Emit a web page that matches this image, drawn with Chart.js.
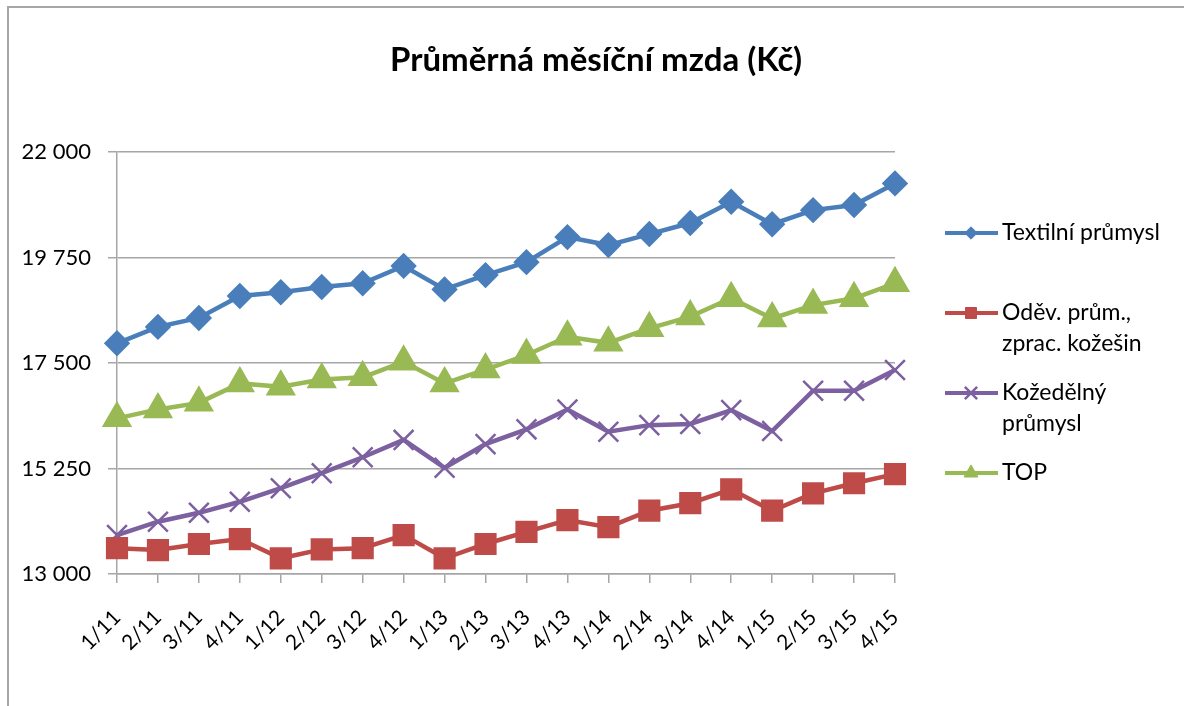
<!DOCTYPE html>
<html lang="cs">
<head>
<meta charset="UTF-8">
<title>Průměrná měsíční mzda (Kč)</title>
<script src="https://cdn.jsdelivr.net/npm/chart.js"></script>
<style>
  html, body { margin: 0; padding: 0; background: #fff; }
</style>
</head>
<body>
<canvas id="graf" width="1184" height="706"></canvas>
<script>
// data
const obdobi = ['1/11', '2/11', '3/11', '4/11', '1/12', '2/12', '3/12', '4/12', '1/13', '2/13',
                '3/13', '4/13', '1/14', '2/14', '3/14', '4/14', '1/15', '2/15', '3/15', '4/15'];
const textilni = [17920, 18270, 18460, 18930, 19010, 19120, 19200, 19570, 19070, 19375,
                  19650, 20185, 20015, 20250, 20485, 20940, 20460, 20760, 20870, 21330];
const odevni = [13550, 13510, 13640, 13745, 13335, 13525, 13550, 13830, 13335, 13640,
                13900, 14150, 14000, 14350, 14510, 14805, 14350, 14720, 14935, 15130];
const kozedelny = [13830, 14115, 14305, 14540, 14830, 15150, 15490, 15860, 15265, 15770,
                   16085, 16510, 16035, 16175, 16200, 16495, 16050, 16910, 16910, 17350];
const topPrumysl = [16320, 16510, 16650, 17065, 16995, 17150, 17195, 17525, 17065, 17360,
                    17670, 18060, 17930, 18240, 18490, 18880, 18450, 18735, 18880, 19200];
const osaY = [13000, 15250, 17500, 19750, 22000];

const nazvyLegendy = [['Textilní průmysl'], ['Oděv. prům.,', 'zprac. kožešin'], ['Kožedělný', 'průmysl'], ['TOP']];

const pismo = 'Lato, "Open Sans", sans-serif';
const seda = '#a6a6a6';

function formatuj(v) {
    return String(v).replace(/\B(?=(\d{3})+(?!\d))/g, ' ');
}

// rámeček a nadpis
const ramecek = {
    id: 'ramecek',
    beforeDraw(chart) {
        const ctx = chart.ctx;
        ctx.save();
        ctx.strokeStyle = seda;
        ctx.lineWidth = 2;
        ctx.beginPath();
        ctx.moveTo(8, 706);
        ctx.lineTo(8, 7);
        ctx.lineTo(1184, 7);
        ctx.stroke();

        ctx.fillStyle = '#000';
        ctx.font = 'bold 33px ' + pismo;
        ctx.textAlign = 'center';
        ctx.textBaseline = 'middle';
        ctx.fillText('Průměrná měsíční mzda (Kč)', 596, 60);
        ctx.restore();
    }
};

// legenda vpravo, víceřádkové popisky
const legenda = {
    id: 'legenda',
    afterDraw(chart) {
        const ctx = chart.ctx;
        const yStart = 233;
        const krok = 80;
        chart.data.datasets.forEach((ds, i) => {
            const y = yStart + i * krok;
            ctx.save();
            ctx.strokeStyle = ds.borderColor;
            ctx.fillStyle = ds.backgroundColor;
            ctx.lineWidth = 4;
            ctx.beginPath();
            ctx.moveTo(945, y);
            ctx.lineTo(998, y);
            ctx.stroke();
            ctx.lineWidth = ds.pointBorderWidth || 1;
            Chart.helpers.drawPoint(ctx, {
                pointStyle: ds.pointStyle,
                radius: ds.pointRadius * 0.62,
                borderWidth: ds.pointBorderWidth || 1,
                rotation: 0
            }, 971, y);

            ctx.fillStyle = '#000';
            ctx.font = '23px ' + pismo;
            ctx.textAlign = 'left';
            ctx.textBaseline = 'middle';
            nazvyLegendy[i].forEach((radek, j) => {
                ctx.fillText(radek, 1002, y + j * 31);
            });
            ctx.restore();
        });
    }
};

new Chart(document.getElementById('graf'), {
    type: 'line',
    data: {
        labels: obdobi,
        datasets: [{
            label: 'Textilní průmysl',
            data: textilni,
            borderColor: '#4a7ebb',
            backgroundColor: '#4a7ebb',
            pointStyle: 'rectRot',
            pointRadius: 10,
            borderWidth: 4.5
        }, {
            label: 'Oděv. prům., zprac. kožešin',
            data: odevni,
            borderColor: '#be4b48',
            backgroundColor: '#be4b48',
            pointStyle: 'rect',
            pointRadius: 12.5,
            borderWidth: 4.5
        }, {
            label: 'Kožedělný průmysl',
            data: kozedelny,
            borderColor: '#7d60a0',
            backgroundColor: '#7d60a0',
            pointStyle: 'crossRot',
            pointRadius: 14,
            pointBorderWidth: 2.5,
            borderWidth: 4.5
        }, {
            label: 'TOP',
            data: topPrumysl,
            borderColor: '#98b954',
            backgroundColor: '#98b954',
            pointStyle: 'triangle',
            pointRadius: 13,
            borderWidth: 4.5
        }]
    },
    options: {
        responsive: false,
        animation: false,
        layout: { padding: { left: 0, top: 152, right: 289, bottom: 0 } },
        plugins: {
            legend: { display: false },
            title: { display: false },
            tooltip: { enabled: false }
        },
        scales: {
            x: {
                offset: false,
                afterFit: (scale) => { scale.height = 132; },
                ticks: {
                    autoSkip: false,
                    minRotation: 45,
                    maxRotation: 45,
                    padding: 22,
                    color: '#000',
                    font: { family: pismo, size: 21 }
                },
                grid: { drawOnChartArea: false, drawTicks: true, tickLength: 9, color: seda, lineWidth: 1.5 },
                border: { color: seda, width: 1.5 }
            },
            y: {
                min: 13000,
                max: 22000,
                afterBuildTicks: (scale) => { scale.ticks = osaY.map(v => ({ value: v })); },
                afterFit: (scale) => { scale.width = 117; },
                ticks: {
                    padding: 17,
                    color: '#000',
                    font: { family: pismo, size: 22 },
                    callback: (v) => formatuj(v)
                },
                grid: { color: seda, lineWidth: 1.5, tickLength: 9 },
                border: { color: seda, width: 1.5 }
            }
        }
    },
    plugins: [ramecek, legenda]
});
</script>
</body>
</html>
